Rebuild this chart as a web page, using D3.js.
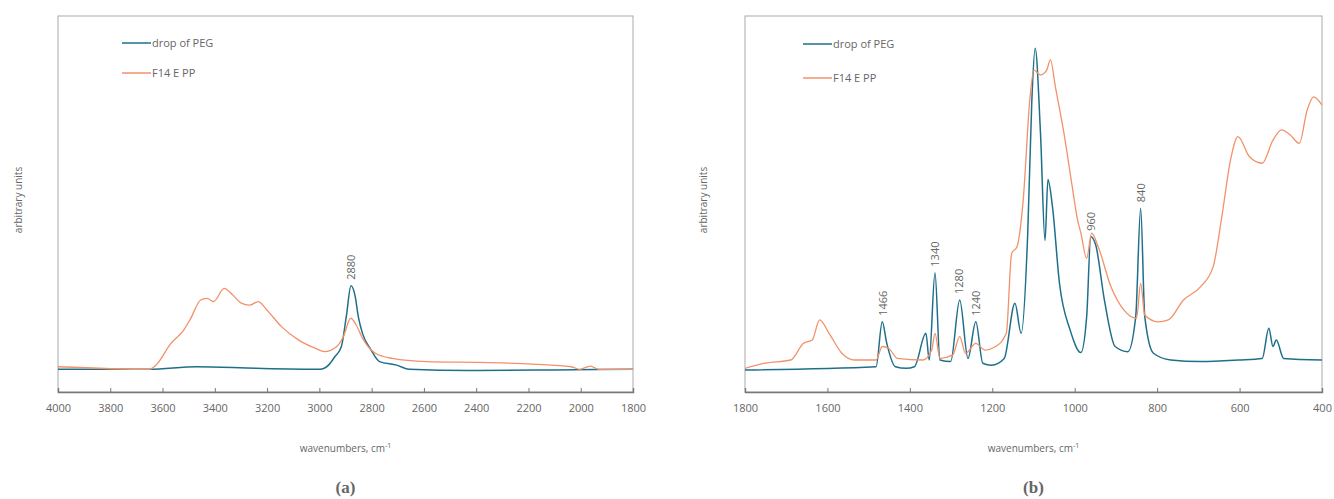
<!DOCTYPE html>
<html>
<head>
<meta charset="utf-8">
<script src="https://cdnjs.cloudflare.com/ajax/libs/d3/7.8.5/d3.min.js"></script>
<style>
  body { margin: 0; background: #fff; }
  svg { display: block; }
  text { font-family: "Open Sans", "Liberation Sans", sans-serif; fill: #666; }
</style>
</head>
<body>
<svg id="chart" width="1334" height="499"></svg>
<script>
// series names, as in the legends
const seriesNames = ['drop of PEG', 'F14 E PP']

// tick labels of the two x axes (cm-1)
const ticksA = [4000, 3800, 3600, 3400, 3200, 3000, 2800, 2600, 2400, 2200, 2000, 1800]
const ticksB = [1800, 1600, 1400, 1200, 1000, 800, 600, 400]

// (a) 4000-1800 cm-1 : [wavenumber, arbitrary units]
const pegA = [[4000,-0.001],[3650,-0.001],[3470,0.007],[3242,0.002],[2998,-0.001],[2965,0.012],
  [2941,0.038],[2916,0.069],[2897,0.163],[2879,0.259],[2863,0.226],[2851,0.163],[2835,0.111],
  [2802,0.059],[2770,0.023],[2704,0.012],[2656,-0.001],[2427,-0.005],[2101,-0.003],[1800,-0.001]]
const ppA = [[4000,0.007],[3650,-0.001],[3625,0.012],[3568,0.080],[3519,0.121],[3495,0.153],
  [3454,0.215],[3430,0.220],[3405,0.210],[3364,0.251],[3332,0.231],[3299,0.205],[3267,0.199],
  [3234,0.210],[3201,0.184],[3145,0.132],[3079,0.090],[3014,0.064],[2981,0.054],[2933,0.070],
  [2908,0.101],[2880,0.158],[2859,0.137],[2835,0.096],[2786,0.049],[2721,0.033],[2590,0.023],
  [2346,0.020],[2183,0.015],[2036,0.007],[2004,-0.001],[1963,0.009],[1930,-0.001],[1800,-0.001]]

// (b) 1800-400 cm-1
const pegB = [[1800,-0.003],[1482,0.007],[1467,0.147],[1456,0.080],[1435,0.007],[1409,0.002],
  [1389,0.007],[1361,0.111],[1353,0.028],[1339,0.300],[1327,0.028],[1301,0.023],[1279,0.215],
  [1259,0.033],[1240,0.147],[1223,0.018],[1202,0.012],[1171,0.033],[1145,0.205],[1130,0.111],
  [1114,0.423],[1104,0.838],[1096,0.999],[1083,0.734],[1072,0.400],[1065,0.590],[1054,0.506],
  [1037,0.267],[1011,0.121],[985,0.051],[971,0.163],[961,0.412],[949,0.386],[928,0.215],
  [902,0.070],[871,0.054],[852,0.163],[840,0.501],[830,0.163],[809,0.049],[767,0.028],
  [695,0.023],[602,0.028],[545,0.033],[529,0.127],[519,0.070],[511,0.090],[493,0.033],[400,0.028]]
const ppB = [[1800,0.002],[1751,0.018],[1689,0.028],[1658,0.080],[1637,0.090],[1619,0.153],
  [1596,0.111],[1565,0.049],[1534,0.028],[1482,0.028],[1467,0.070],[1451,0.064],[1430,0.033],
  [1368,0.028],[1347,0.059],[1339,0.111],[1327,0.033],[1296,0.044],[1279,0.101],[1265,0.049],
  [1240,0.080],[1218,0.059],[1192,0.070],[1166,0.111],[1153,0.360],[1140,0.381],[1125,0.526],
  [1109,0.838],[1099,0.931],[1083,0.916],[1068,0.931],[1059,0.963],[1047,0.880],[1026,0.734],
  [1006,0.568],[993,0.464],[985,0.423],[971,0.345],[959,0.423],[943,0.381],[912,0.256],
  [881,0.184],[850,0.158],[840,0.267],[830,0.168],[798,0.147],[773,0.153],[736,0.215],
  [695,0.256],[664,0.319],[643,0.475],[622,0.651],[604,0.724],[576,0.661],[545,0.641],
  [519,0.713],[498,0.745],[477,0.729],[455,0.703],[436,0.807],[420,0.848],[400,0.822]]

// peak annotations
const peaksA = [2880]
const peaksB = [1466, 1340, 1280, 1240, 960, 840]

const colors = ['#1f6f8b', '#f2916a']
const svg = d3.select('#chart')

function drawPanel (p) {
  const x = d3.scaleLinear().domain(p.xDomain).range([p.left, p.right])
  const y = d3.scaleLinear().domain([-0.0717, 1.0997]).range([392, 16])
  const g = svg.append('g')

  const clipId = 'clip' + p.tag
  g.append('clipPath').attr('id', clipId).append('rect')
    .attr('x', p.left).attr('y', 16).attr('width', p.right - p.left).attr('height', 376)

  // frame
  g.append('rect')
    .attr('x', p.left).attr('y', 16).attr('width', p.right - p.left).attr('height', 376)
    .attr('fill', 'none').attr('stroke', '#aaa').attr('stroke-width', 1)

  const axis = g.append('g')
    .attr('transform', 'translate(0,392)')
    .call(d3.axisBottom(x).tickValues(p.ticks).tickSize(-4).tickPadding(12).tickFormat(d3.format('d')))
  axis.select('.domain').attr('stroke', '#777').attr('stroke-width', 1.4)
  axis.selectAll('.tick line').attr('stroke', '#777')
  axis.selectAll('.tick text').attr('fill', '#666').style('font-size', '11px')
    .style('font-family', '"Open Sans", "Liberation Sans", sans-serif')

  const line = d3.line().x(d => x(d[0])).y(d => y(d[1])).curve(d3.curveMonotoneX)
  const plot = g.append('g').attr('clip-path', 'url(#' + clipId + ')')
  plot.append('path').datum(p.series[0]).attr('d', line)
    .attr('fill', 'none').attr('stroke', colors[0]).attr('stroke-width', 1.5)
  plot.append('path').datum(p.series[1]).attr('d', line)
    .attr('fill', 'none').attr('stroke', colors[1]).attr('stroke-width', 1.3)

  // peak labels, rotated, just above the PEG peak
  p.peaks.forEach(function (wn) {
    let best = p.series[0][0]
    p.series[0].forEach(function (d) { if (Math.abs(d[0] - wn) <= 6 && d[1] > best[1]) best = d })
    if (Math.abs(best[0] - wn) > 6) best = p.series[0].reduce((a, b) => Math.abs(b[0] - wn) < Math.abs(a[0] - wn) ? b : a)
    const px = x(wn), py = y(best[1]) - 6
    g.append('text')
      .attr('transform', 'translate(' + (px + 4) + ',' + py + ') rotate(-90)')
      .attr('text-anchor', 'start')
      .style('font-size', '11px').attr('fill', '#555')
      .text(wn)
  })

  // legend
  seriesNames.forEach(function (name, i) {
    const ly = p.legendY[i]
    g.append('line').attr('x1', p.legendX).attr('x2', p.legendX + 29).attr('y1', ly).attr('y2', ly)
      .attr('stroke', colors[i]).attr('stroke-width', 1.5)
    g.append('text').attr('x', p.legendX + 30).attr('y', ly + 4)
      .style('font-size', '11px').attr('fill', '#666').text(name)
  })

  // axis titles
  const mid = (p.left + p.right) / 2
  const t = g.append('text').attr('x', mid).attr('y', 452).attr('text-anchor', 'middle')
    .style('font-size', '10px').attr('fill', '#777')
  t.append('tspan').text('wavenumbers, cm')
  t.append('tspan').attr('dy', -4).style('font-size', '7px').text('-1')

  g.append('text')
    .attr('transform', 'translate(' + p.yTitleX + ',200) rotate(-90)')
    .attr('text-anchor', 'middle').style('font-size', '10px').attr('fill', '#777')
    .text('arbitrary units')

  g.append('text').attr('x', mid).attr('y', 493).attr('text-anchor', 'middle')
    .style('font-family', '"Liberation Serif", "DejaVu Serif", serif')
    .style('font-size', '17px').style('font-weight', 'bold').attr('fill', '#222')
    .text('(' + p.tag + ')')
}

drawPanel({ tag: 'a', xDomain: [4000, 1800], left: 58, right: 633, ticks: ticksA,
  series: [pegA, ppA], peaks: peaksA, legendX: 122, legendY: [43, 73], yTitleX: 22 })
drawPanel({ tag: 'b', xDomain: [1800, 400], left: 745, right: 1322, ticks: ticksB,
  series: [pegB, ppB], peaks: peaksB, legendX: 803, legendY: [44, 78], yTitleX: 707 })
</script>
</body>
</html>
